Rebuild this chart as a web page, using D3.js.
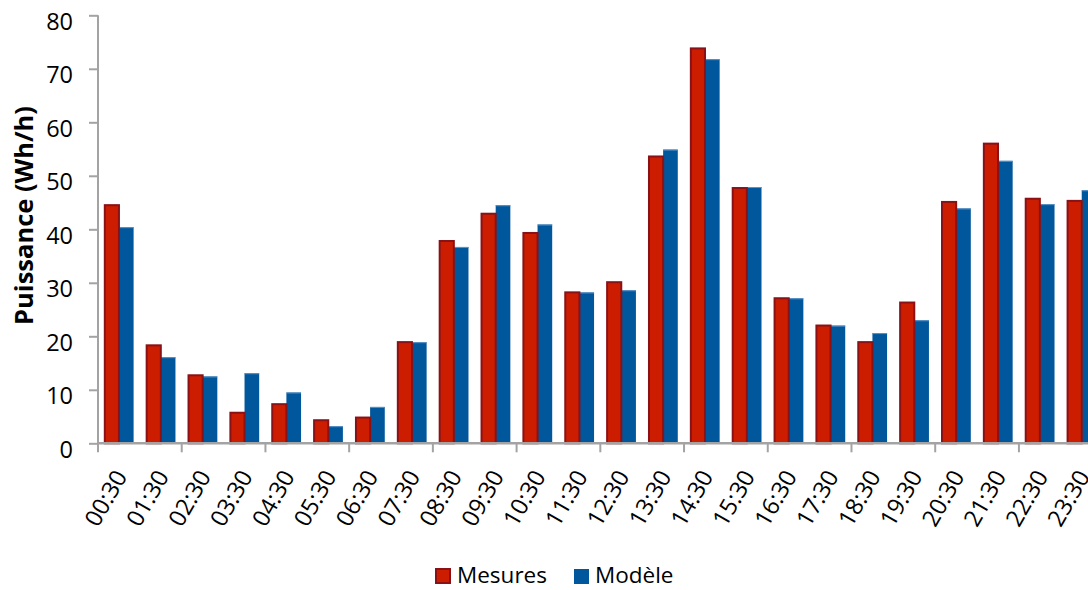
<!DOCTYPE html>
<html>
<head>
<meta charset="utf-8">
<script src="https://cdn.jsdelivr.net/npm/d3@7"></script>
<style>
  html, body { margin: 0; padding: 0; background: #fff; overflow: hidden; }
  svg { display: block; font-family: "Open Sans", sans-serif; }
</style>
</head>
<body>
<svg id="chart" width="1088" height="590"></svg>
<script>
// Hourly power: measurements vs. model
const hours = ["00:30","01:30","02:30","03:30","04:30","05:30","06:30","07:30",
  "08:30","09:30","10:30","11:30","12:30","13:30","14:30","15:30",
  "16:30","17:30","18:30","19:30","20:30","21:30","22:30","23:30"];
const mesures = [44.7, 18.5, 12.9, 5.9, 7.5, 4.5, 5.0, 19.1,
  38.0, 43.1, 39.5, 28.4, 30.3, 53.8, 74.0, 47.9,
  27.3, 22.2, 19.1, 26.5, 45.3, 56.2, 45.9, 45.5];
const modele = [40.4, 16.1, 12.5, 13.1, 9.5, 3.2, 6.8, 18.9,
  36.7, 44.5, 40.9, 28.2, 28.6, 54.9, 71.8, 47.9,
  27.1, 22.0, 20.6, 23.0, 43.9, 52.8, 44.7, 47.3];
const yTicks = [0, 10, 20, 30, 40, 50, 60, 70, 80];
const seriesNames = ["Mesures", "Modèle"];

const colors = { Mesures: "#cc1d00", Modèle: "#00579b" };
const redEdge = "#8a1216";
const blueEdge = "#5d93c8";
const axisColor = "#a3a3a3";

const svg = d3.select("#chart");

const plotLeft = 98, plotTop = 15.3, plotBottom = 443.3;
const step = 41.86;
const x = d3.scaleBand().domain(hours).range([plotLeft, plotLeft + step * hours.length]).padding(0);
const inner = d3.scaleBand().domain(seriesNames).range([6.3, 35.6]).padding(0);
const y = d3.scaleLinear().domain([0, 80]).range([plotBottom, plotTop]);

const rows = hours.map((h, i) => ({ h, Mesures: mesures[i], Modèle: modele[i] }));

// Bars
const groups = svg.append("g").selectAll("g").data(rows).join("g")
  .attr("transform", d => `translate(${x(d.h)},0)`);

// model bars (blue) with light top edge
groups.append("rect")
  .attr("x", inner("Modèle"))
  .attr("width", inner.bandwidth())
  .attr("y", d => y(d.Modèle))
  .attr("height", d => y(0) - y(d.Modèle))
  .attr("fill", colors.Modèle);
groups.append("line")
  .attr("x1", inner("Modèle")).attr("x2", inner("Modèle") + inner.bandwidth())
  .attr("y1", d => y(d.Modèle) + 0.5).attr("y2", d => y(d.Modèle) + 0.5)
  .attr("stroke", blueEdge).attr("stroke-width", 1);

// measured bars (red) with dark outline; outer edge of the outline sits on the value
groups.append("rect")
  .attr("x", inner("Mesures") + 0.5)
  .attr("width", inner.bandwidth() - 0.5)
  .attr("y", d => y(d.Mesures) + 1)
  .attr("height", d => y(0) - y(d.Mesures) - 1)
  .attr("fill", colors.Mesures)
  .attr("stroke", redEdge)
  .attr("stroke-width", 2);

// Y axis
const yAxis = svg.append("g").attr("transform", `translate(${plotLeft},0)`)
  .call(d3.axisLeft(y).tickValues(yTicks).tickSize(9).tickPadding(16));
yAxis.select(".domain").attr("stroke", axisColor).attr("stroke-width", 2)
  .attr("d", `M0,${plotBottom}V${plotTop}`);
yAxis.selectAll(".tick line").attr("stroke", axisColor).attr("stroke-width", 2);
yAxis.selectAll(".tick text").attr("fill", "#000").attr("font-size", 23.5)
  .attr("font-family", "Open Sans, sans-serif").attr("dy", "0.6em");

// X axis: ticks on every second category boundary
const boundaries = d3.range(0, hours.length + 1, 2).map(i => plotLeft + i * step);
const xAxisG = svg.append("g");
xAxisG.append("line")
  .attr("x1", plotLeft - 1).attr("x2", plotLeft + step * hours.length)
  .attr("y1", plotBottom).attr("y2", plotBottom)
  .attr("stroke", axisColor).attr("stroke-width", 2.5);
xAxisG.selectAll("line.tk").data(boundaries).join("line").attr("class", "tk")
  .attr("x1", d => d).attr("x2", d => d)
  .attr("y1", plotBottom).attr("y2", plotBottom + 9)
  .attr("stroke", axisColor).attr("stroke-width", 2);

xAxisG.selectAll("text").data(hours).join("text")
  .attr("transform", d => `translate(${x(d) + x.bandwidth() / 2 + 9},${plotBottom + 33}) rotate(-60)`)
  .attr("text-anchor", "end")
  .attr("font-size", 23.5)
  .attr("fill", "#000")
  .text(d => d);

// Y axis title
svg.append("text")
  .attr("transform", `translate(33,${(103 + 328) / 2}) rotate(-90)`)
  .attr("text-anchor", "middle")
  .attr("font-size", 25.5)
  .attr("font-weight", "bold")
  .attr("fill", "#000")
  .text("Puissance (Wh/h)");

// Legend
const legend = svg.append("g");
const legendItems = [
  { name: "Mesures", sx: 436, tx: 457 },
  { name: "Modèle", sx: 574, tx: 595 }
];
legend.selectAll("rect").data(legendItems).join("rect")
  .attr("x", d => d.sx).attr("y", 569)
  .attr("width", d => d.name === "Mesures" ? 14 : 15)
  .attr("height", d => d.name === "Mesures" ? 14 : 15)
  .attr("fill", d => colors[d.name])
  .attr("stroke", d => d.name === "Mesures" ? redEdge : "none")
  .attr("stroke-width", 2);
legend.selectAll("text").data(legendItems).join("text")
  .attr("x", d => d.tx).attr("y", 583)
  .attr("font-size", 22.5)
  .attr("fill", "#000")
  .text(d => d.name);
</script>
</body>
</html>
